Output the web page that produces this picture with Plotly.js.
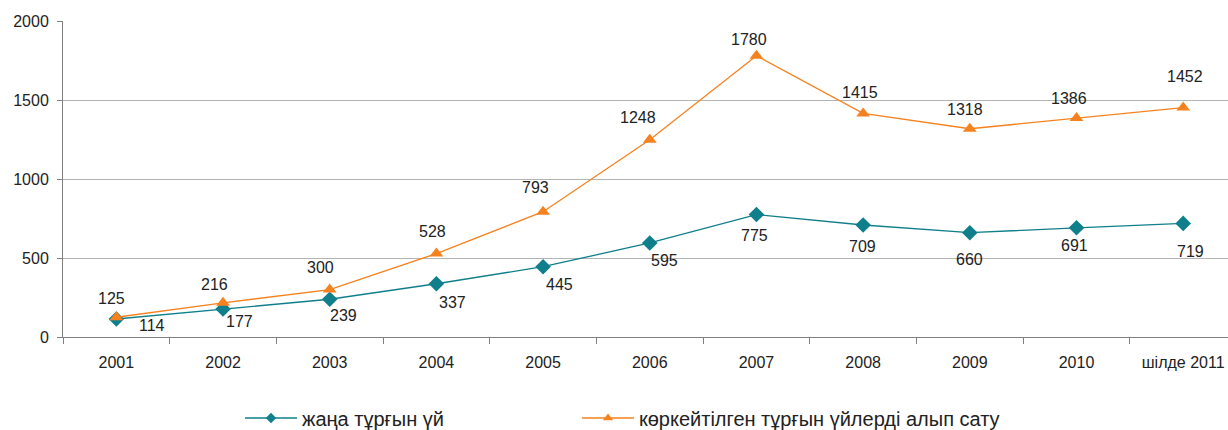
<!DOCTYPE html>
<html>
<head>
<meta charset="utf-8">
<script src="https://cdn.plot.ly/plotly-3.0.1.min.js"></script>
<style>html,body{margin:0;padding:0;background:#fff;}#chart{width:1228px;height:430px;}</style>
</head>
<body>
<div id="chart"></div>
<script>
var categories = ['2001','2002','2003','2004','2005','2006','2007','2008','2009','2010','шілде 2011'];
var newHousing = [114,177,239,337,445,595,775,709,660,691,719];
var resaleHousing = [125,216,300,528,793,1248,1780,1415,1318,1386,1452];
var seriesNames = ['жаңа тұрғын үй','көркейтілген тұрғын үйлерді алып сату'];

// label offsets in px (style only)
var newOffX = [36,16,14,16,16,15,-2,-1,0,-2,7];
var newOffY = [7,12,16,19,18,18,21,22,27,18,28];
var resOffX = [-5,-9,-9,-4,-8,-12,-7,-3,-5,-8,2];
var resOffY = [-19,-18,-22,-22,-24,-22,-16,-21,-19,-20,-31];

var teal = '#0f7f8b', orange = '#f5821f';
var FONT = "'Liberation Sans', Arial, sans-serif";
var FS = 16;
var LFS = 20;

var traces = [
  {x: categories, y: newHousing, name: seriesNames[0], type: 'scatter', mode: 'lines+markers', showlegend: false,
   line: {color: teal, width: 1.3}, marker: {symbol: 'diamond', size: 12, color: teal}},
  {x: categories, y: resaleHousing, name: seriesNames[1], type: 'scatter', mode: 'lines+markers', showlegend: false,
   line: {color: orange, width: 1.3}, marker: {symbol: 'triangle-up', size: 12, color: orange}},
  // legend entries with smaller symbols
  {x: [null], y: [null], name: seriesNames[0], type: 'scatter', mode: 'lines+markers', legend: 'legend',
   line: {color: teal, width: 1.5}, marker: {symbol: 'diamond', size: 8, color: teal}},
  {x: [null], y: [null], name: seriesNames[1], type: 'scatter', mode: 'lines+markers', legend: 'legend2',
   line: {color: orange, width: 1.5}, marker: {symbol: 'triangle-up', size: 9, color: orange}}
];

var annotations = [];
categories.forEach(function(c, i){
  annotations.push({x: i, y: newHousing[i], text: String(newHousing[i]), showarrow: false,
    xshift: newOffX[i], yshift: -newOffY[i], font: {family: FONT, size: FS, color: '#222'}});
  annotations.push({x: i, y: resaleHousing[i], text: String(resaleHousing[i]), showarrow: false,
    xshift: resOffX[i], yshift: -resOffY[i], font: {family: FONT, size: FS, color: '#222'}});
});

function legendAt(px) {
  return {orientation: 'h', xref: 'container', yref: 'container', x: px/1228, xanchor: 'left',
    y: 1 - 418/430, yanchor: 'middle', itemwidth: 52,
    font: {family: FONT, size: LFS, color: '#222'}, bgcolor: 'rgba(0,0,0,0)'};
}

var layout = {
  width: 1228, height: 430,
  margin: {l: 63, r: 0, t: 21, b: 93},
  paper_bgcolor: '#fff', plot_bgcolor: '#fff',
  font: {family: FONT, size: FS, color: '#222'},
  showlegend: true,
  xaxis: {type: 'category', range: [-0.5, 10.42], tickson: 'boundaries', ticks: 'outside', ticklen: 6,
    tickcolor: '#808080', showline: true, linecolor: '#808080', linewidth: 1, showgrid: false,
    zeroline: false, ticklabelstandoff: 11, tickfont: {family: FONT, size: FS, color: '#222'}, fixedrange: true},
  yaxis: {range: [0, 2000], tickvals: [0,500,1000,1500,2000], ticks: 'outside', ticklen: 5,
    tickcolor: '#808080', showline: true, linecolor: '#808080', linewidth: 1, showgrid: true,
    gridcolor: '#b4b4b4', gridwidth: 1, zeroline: false, ticklabelstandoff: 5,
    tickfont: {family: FONT, size: FS, color: '#222'}, fixedrange: true},
  legend: legendAt(240),
  legend2: legendAt(577),
  annotations: annotations
};

Plotly.newPlot('chart', traces, layout, {displayModeBar: false, staticPlot: true});
</script>
</body>
</html>
